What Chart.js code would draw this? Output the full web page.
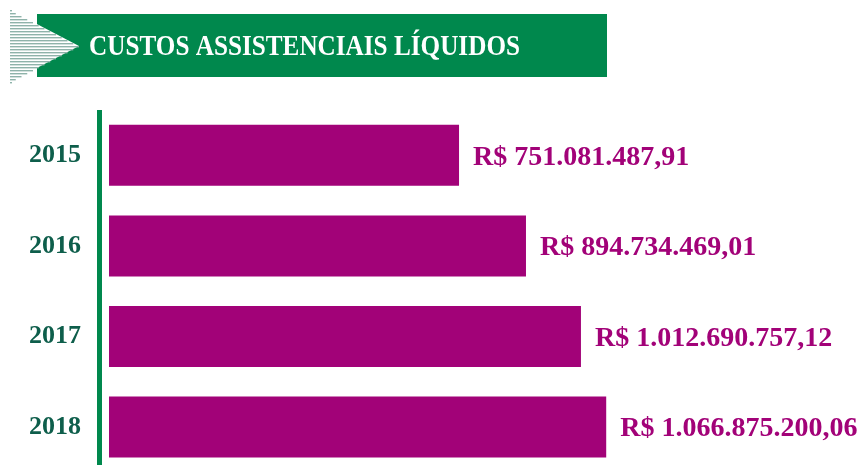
<!DOCTYPE html>
<html>
<head>
<meta charset="utf-8">
<script src="https://cdn.jsdelivr.net/npm/chart.js@4"></script>
<style>
  body { margin: 0; background: #fff; overflow: hidden; }
  canvas { display: block; }
</style>
</head>
<body>
<canvas id="myChart" width="867" height="516"></canvas>
<script>
const ctx = document.getElementById('myChart');

const years = ['2015', '2016', '2017', '2018'];
const custos = [751081487.91, 894734469.01, 1012690757.12, 1066875200.06];
const valueLabels = ['R$ 751.081.487,91', 'R$ 894.734.469,01', 'R$ 1.012.690.757,12', 'R$ 1.066.875.200,06'];
const title = 'CUSTOS ASSISTENCIAIS LÍQUIDOS';

const green = '#00884d';
const purple = '#a20278';

// banner with striped arrow + green axis line + value labels
const decor = {
    id: 'decor',
    beforeDraw(chart) {
        const c = chart.ctx;
        c.save();
        // green banner
        c.fillStyle = green;
        c.fillRect(37, 14, 570, 63);
        // striped arrow
        const tipX = 79, midY = 46, half = 36;
        c.fillStyle = '#fff';
        c.beginPath();
        c.moveTo(10, midY - half);
        c.lineTo(tipX, midY);
        c.lineTo(10, midY + half);
        c.closePath();
        c.fill();
        c.fillStyle = '#8fb3aa';
        for (let y = midY - half; y <= midY + half; y += 3) {
            const len = (tipX - 10) * (1 - Math.abs(y - midY) / half);
            c.fillRect(10, y, Math.max(len, 2), 1.4);
        }
        // title
        c.fillStyle = '#fff';
        c.font = 'bold 30px "Liberation Serif"';
        c.textBaseline = 'middle';
        c.textAlign = 'left';
        c.fillText(title, 89, 47, 431);
        // vertical axis line
        c.fillStyle = green;
        c.fillRect(97, 110, 5, 365);
        c.restore();
    },
    afterDatasetsDraw(chart) {
        const c = chart.ctx;
        const meta = chart.getDatasetMeta(0);
        c.save();
        c.fillStyle = purple;
        c.font = 'bold 28px "Liberation Serif"';
        c.textBaseline = 'middle';
        c.textAlign = 'left';
        meta.data.forEach((bar, i) => {
            c.fillText(valueLabels[i], bar.x + 14, bar.y + 2);
        });
        c.restore();
    }
};

new Chart(ctx, {
    type: 'bar',
    data: {
        labels: years,
        datasets: [{
            label: 'Custos assistenciais líquidos',
            data: custos,
            backgroundColor: purple,
            borderWidth: 0,
            categoryPercentage: 1,
            barPercentage: 0.673
        }]
    },
    options: {
        indexAxis: 'y',
        responsive: false,
        animation: false,
        layout: { padding: { top: 110, left: 29, right: 17, bottom: 0 } },
        plugins: {
            legend: { display: false },
            tooltip: { enabled: false }
        },
        scales: {
            x: {
                display: false,
                min: 0,
                max: 1590000000
            },
            y: {
                grid: { display: false, drawTicks: false },
                border: { display: false },
                afterFit(scale) { scale.width = 80; },
                ticks: {
                    color: '#0e5e4b',
                    font: { family: 'Liberation Serif', size: 26, weight: 'bold' },
                    padding: 28
                }
            }
        }
    },
    plugins: [decor]
});
</script>
</body>
</html>
